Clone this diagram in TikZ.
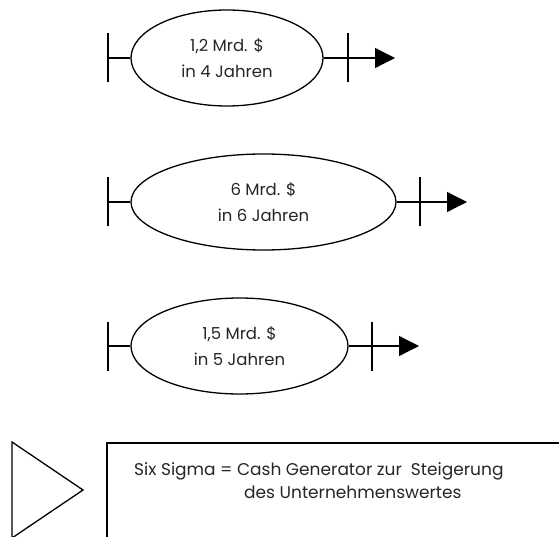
\documentclass[tikz,border=0pt]{standalone}
\usepackage{fontspec}
\setmainfont{Poppins}
\usetikzlibrary{shapes.geometric,arrows.meta}
\begin{document}
\begin{tikzpicture}[x=1pt,y=1pt,
  ell/.style={draw,ellipse,line width=1.3pt,inner sep=0pt,align=center,
    font=\fontsize{16.5}{26}\selectfont},
  conn/.style={line width=1.3pt},
  arr/.style={line width=1.3pt,-{Triangle[length=20pt,width=20pt]}},
  lbl/.style={font=\fontsize{17}{23}\selectfont,inner sep=0pt,text=black!85}]
\useasboundingbox (0,0) rectangle (559,-537);
\clip (0,0) rectangle (559,-537);
% ellipse 1
\node[ell,minimum width=192pt,minimum height=96pt,text=black!85] (e1) at (227,-58) {1,2 Mrd. \$\\in 4 Jahren};
\coordinate (a1) at (108,-58);
\coordinate (b1) at (348,-58);
\coordinate (c1) at (395,-58);
\draw[conn] ([yshift=24.5pt]a1) -- ([yshift=-24.5pt]a1);
\draw[conn] (a1) -- (e1.west);
\draw[conn] ([yshift=24.5pt]b1) -- ([yshift=-24.5pt]b1);
\draw[arr] (e1.east) -- (c1);
% ellipse 2
\node[ell,minimum width=265pt,minimum height=96pt,text=black!85] (e2) at (263.5,-202) {6 Mrd. \$\\in 6 Jahren};
\coordinate (a2) at (108,-202);
\coordinate (b2) at (420,-202);
\coordinate (c2) at (467,-202);
\draw[conn] ([yshift=24.5pt]a2) -- ([yshift=-24.5pt]a2);
\draw[conn] (a2) -- (e2.west);
\draw[conn] ([yshift=24.5pt]b2) -- ([yshift=-24.5pt]b2);
\draw[arr] (e2.east) -- (c2);
% ellipse 3
\node[ell,minimum width=217pt,minimum height=96pt,text=black!85] (e3) at (239.5,-346) {1,5 Mrd. \$\\in 5 Jahren};
\coordinate (a3) at (108,-346);
\coordinate (b3) at (372,-346);
\coordinate (c3) at (419,-346);
\draw[conn] ([yshift=24.5pt]a3) -- ([yshift=-24.5pt]a3);
\draw[conn] (a3) -- (e3.west);
\draw[conn] ([yshift=24.5pt]b3) -- ([yshift=-24.5pt]b3);
\draw[arr] (e3.east) -- (c3);
% triangle
\draw[conn,line join=miter] (12,-442) -- (83,-490) -- (12,-538) -- cycle;
% box
\draw[conn] (107,-560) -- (107,-443) -- (575,-443);
\node[lbl,anchor=base west] (t1) at (134,-475) {Six Sigma = Cash Generator zur\ \ Steigerung};
\node[lbl,anchor=base west] (t2) at (244,-498) {des Unternehmenswertes};
\end{tikzpicture}
\end{document}
